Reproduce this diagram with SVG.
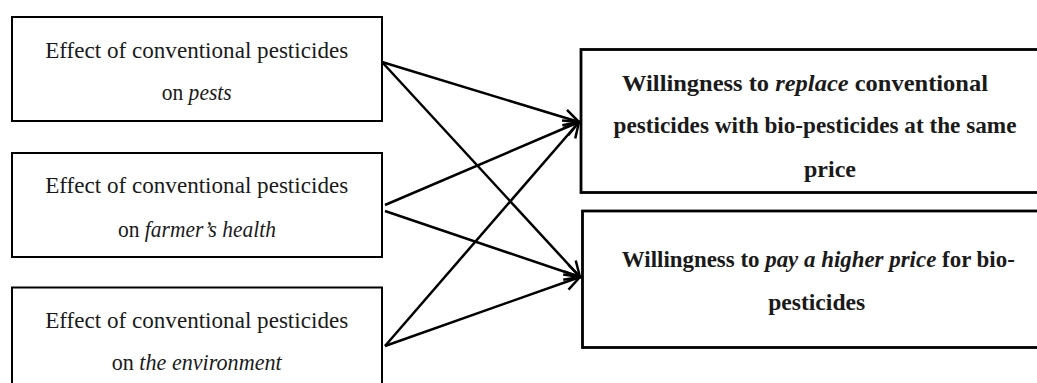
<svg xmlns="http://www.w3.org/2000/svg" width="1037" height="383" viewBox="0 0 1037 383">
<style>
.lbox{fill:#fff;stroke:#000;stroke-width:2}
.rbox{fill:#fff;stroke:#000;stroke-width:2.8}
.lt{font-family:"Liberation Serif","Times New Roman",serif;font-size:23.5px;fill:#1a1a1a;text-anchor:middle}
.rt{font-family:"Liberation Serif","Times New Roman",serif;font-size:24px;font-weight:bold;fill:#1a1a1a;text-anchor:middle}
.it{font-style:italic}
.conn{stroke:#000;stroke-width:2.5;fill:none;marker-end:url(#arr)}
</style>
<defs>
<marker id="arr" markerUnits="userSpaceOnUse" markerWidth="30" markerHeight="30" refX="0" refY="0" viewBox="-20 -15 30 30" orient="auto" overflow="visible">
<path d="M-15,-8 L0,0 L-15,8" fill="none" stroke="#000" stroke-width="2.5" stroke-linejoin="miter"/>
</marker>
</defs>
<g id="n1">
<rect class="lbox" x="12" y="17" width="370" height="104"/>
<text class="lt" x="196.7" y="58.3" textLength="303" lengthAdjust="spacingAndGlyphs">Effect of conventional pesticides</text>
<text class="lt" x="196.7" y="100" textLength="70" lengthAdjust="spacingAndGlyphs">on <tspan class="it">pests</tspan></text>
</g>
<g id="n2">
<rect class="lbox" x="12" y="153" width="370" height="104"/>
<text class="lt" x="196.7" y="193.3" textLength="303" lengthAdjust="spacingAndGlyphs">Effect of conventional pesticides</text>
<text class="lt" x="197" y="236.7" textLength="158" lengthAdjust="spacingAndGlyphs">on <tspan class="it">farmer’s health</tspan></text>
</g>
<g id="n3">
<rect class="lbox" x="12" y="287.5" width="370" height="120"/>
<text class="lt" x="196.7" y="328.3" textLength="303" lengthAdjust="spacingAndGlyphs">Effect of conventional pesticides</text>
<text class="lt" x="196.7" y="370" textLength="170" lengthAdjust="spacingAndGlyphs">on <tspan class="it">the environment</tspan></text>
</g>
<g id="n4">
<rect class="rbox" x="581" y="49.5" width="480" height="143"/>
<text class="rt" x="805" y="90.5" textLength="366" lengthAdjust="spacingAndGlyphs">Willingness to <tspan class="it">replace</tspan> conventional</text>
<text class="rt" x="815" y="133" textLength="403" lengthAdjust="spacingAndGlyphs">pesticides with bio-pesticides at the same</text>
<text class="rt" x="830" y="176.5">price</text>
</g>
<g id="n5">
<rect class="rbox" x="582.5" y="211" width="480" height="136.5"/>
<text class="rt" x="818.3" y="266.7" textLength="393" lengthAdjust="spacingAndGlyphs">Willingness to <tspan class="it">pay a higher price</tspan> for bio-</text>
<text class="rt" x="816.7" y="310" textLength="97" lengthAdjust="spacingAndGlyphs">pesticides</text>
</g>
<g id="connectors">
<path class="conn" d="M382,62 L579,122"/>
<path class="conn" d="M382,62 L580,277"/>
<path class="conn" d="M385,205 L579,122"/>
<path class="conn" d="M385,211 L580,277"/>
<path class="conn" d="M385,346 L579,122"/>
<path class="conn" d="M385,346 L580,277"/>
</g>
</svg>
